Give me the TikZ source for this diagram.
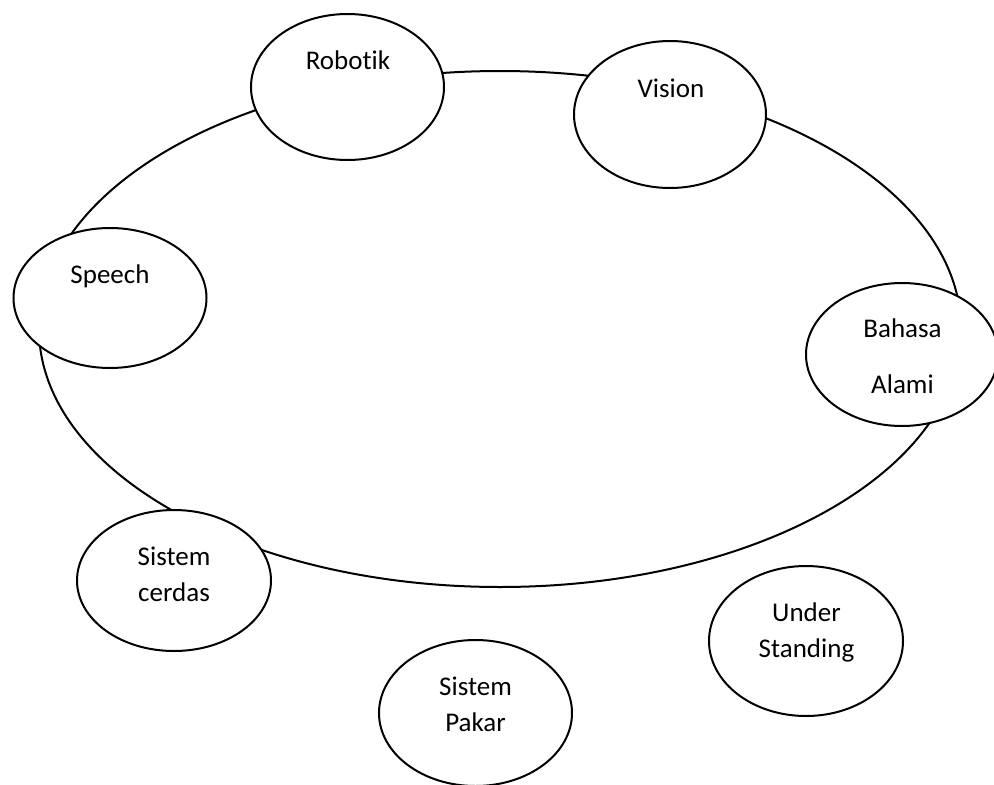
\documentclass[tikz,border=0pt]{standalone}
\usepackage{fontspec}
\setmainfont{Carlito}[Ligatures=NoCommon]
\usetikzlibrary{shapes.geometric}
\tikzset{
  ring/.style={ellipse, draw, line width=2pt, inner sep=0pt},
  bubble/.style={ellipse, draw, fill=white, line width=2pt, inner sep=0pt},
  word/.style={anchor=base, inner sep=0pt, font=\fontsize{27}{32}\selectfont}
}
\begin{document}
\begin{tikzpicture}[x=1pt, y=-1pt]
  \useasboundingbox (0,0) rectangle (994,785);
  \clip (0,0) rectangle (994,785);

  % the large ring behind the topics
  \node[ring, minimum width=922pt, minimum height=516pt] (ring) at (500,329) {};

  % topic bubbles
  \node[bubble, minimum width=193pt, minimum height=146pt] (robotik) at (347.5,87) {};
  \node[bubble, minimum width=192pt, minimum height=147pt] (vision) at (670,114.5) {};
  \node[bubble, minimum width=193pt, minimum height=140pt] (speech) at (110,298) {};
  \node[bubble, minimum width=192pt, minimum height=143pt] (bahasa) at (902,354.5) {};
  \node[bubble, minimum width=194pt, minimum height=141pt] (cerdas) at (174,580.5) {};
  \node[bubble, minimum width=194pt, minimum height=150pt] (under) at (806,641) {};
  \node[bubble, minimum width=193pt, minimum height=146pt] (pakar) at (475.5,713) {};

  % labels
  \node[word] (tRobotik) at (348,69) {Robotik};
  \node[word] (tVision) at (671,97) {Vision};
  \node[word] (tSpeech) at (110,283) {Speech};
  \node[word] (tBahasa) at (902.5,337) {Bahasa};
  \node[word] (tAlami) at (902.5,393) {Alami};
  \node[word] (tSistemA) at (174,565) {Sistem};
  \node[word] (tCerdas) at (174,601) {cerdas};
  \node[word] (tUnder) at (806.5,621) {Under};
  \node[word] (tStanding) at (806.5,657) {Standing};
  \node[word] (tSistemB) at (475.5,695) {Sistem};
  \node[word] (tPakar) at (475.5,731) {Pakar};
\end{tikzpicture}
\end{document}
